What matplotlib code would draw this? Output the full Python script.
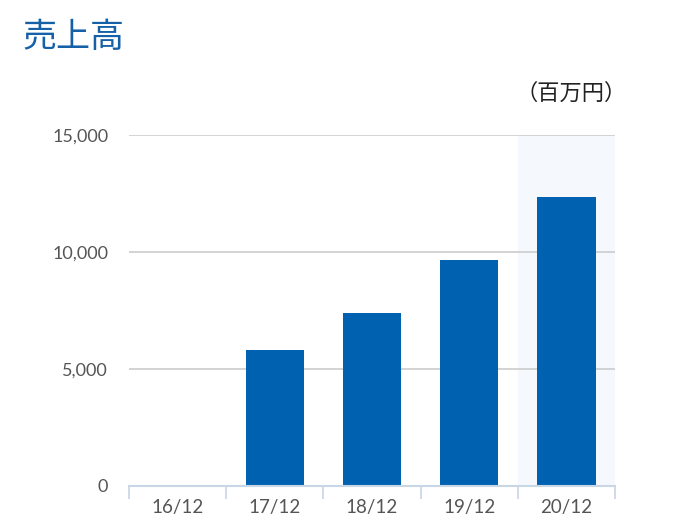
import numpy as np
import matplotlib.pyplot as plt
from matplotlib.ticker import FuncFormatter, FixedLocator

plt.rcParams['font.family'] = ['Lato', 'Noto Sans CJK JP', 'DejaVu Sans']

# データ (百万円)
years = ["16/12", "17/12", "18/12", "19/12", "20/12"]
sales = [0, 5810, 7400, 9660, 12340]
highlight = "20/12"
yticks = [0, 5000, 10000, 15000]

bar_color = "#0061b0"
axis_color = "#c8d6e6"

fig = plt.figure(figsize=(6.78, 5.26), dpi=100)
ax = fig.add_axes([129 / 678, 40 / 526, 486 / 678, 351 / 526])

x = np.arange(len(years))

# 最新期の背景
hi = years.index(highlight)
ax.axvspan(hi - 0.5, hi + 0.5, color="#f5f8fc", zorder=0)

ax.bar(x, sales, width=0.6, color=bar_color, zorder=3)

ax.set_xlim(-0.5, len(years) - 0.5)
ax.set_ylim(0, 15000)

# 目盛り
ax.set_yticks(yticks)
ax.yaxis.set_major_formatter(FuncFormatter(lambda v, p: f"{int(v):,}"))
for g in yticks[1:]:
    ax.axhline(g, color="#cccccc", lw=1.2, zorder=1)

ax.set_xticks(x)
ax.set_xticklabels(years)
ax.xaxis.set_minor_locator(FixedLocator(np.arange(-0.5, len(years), 1.0)))
ax.tick_params(axis="x", which="major", length=0, pad=9,
               labelsize=13.5, labelcolor="#555555")
ax.tick_params(axis="x", which="minor", length=9, width=1.2, color=axis_color)
ax.tick_params(axis="y", length=0, pad=15, labelsize=13, labelcolor="#555555")

for s in ["top", "right", "left"]:
    ax.spines[s].set_visible(False)
ax.spines["bottom"].set_color(axis_color)
ax.spines["bottom"].set_linewidth(1.5)
ax.spines["bottom"].set_zorder(4)

# タイトルと単位
fig.text(23 / 678, 1 - 38 / 526, "売上高", fontsize=24.5, color="#1660a8",
         va="center", ha="left", family=['Noto Sans CJK JP', 'DejaVu Sans'])
fig.text(627 / 678, 1 - 93 / 526, "（百万円）", fontsize=16, color="#222222",
         va="center", ha="right", family=['Noto Sans CJK JP', 'DejaVu Sans'])

fig.savefig("out.png", dpi=100)
